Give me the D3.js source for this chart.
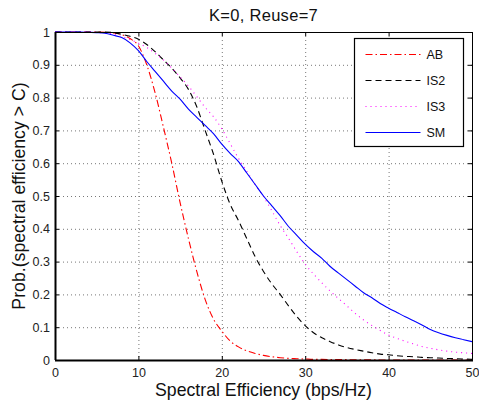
<!DOCTYPE html>
<html>
<head>
<meta charset="utf-8">
<script src="https://cdn.jsdelivr.net/npm/d3@7"></script>
<style>
  body { margin: 0; background: #fff; }
  svg { font-family: "Liberation Sans", Arial, sans-serif; }
</style>
</head>
<body>
<svg id="chart" width="479" height="406"></svg>
<script>
var xs = d3.range(0, 51);
var ab = [1, 1, 1, 1, 1, 1, 0.999, 0.997, 0.992, 0.98, 0.958, 0.9, 0.815, 0.71, 0.6, 0.48,
  0.37, 0.27, 0.185, 0.125, 0.088, 0.058, 0.04, 0.028, 0.02, 0.014, 0.01, 0.007, 0.005, 0.004,
  0.003, 0.002, 0.002, 0.0015, 0.001, 0.001, 0.0008, 0.0006, 0.0004, 0.0002, 0.0001,
  0, 0, 0, 0, 0, 0, 0, 0, 0, 0];
var is2 = [1, 1, 1, 1, 1, 1, 1, 0.998, 0.993, 0.987, 0.978, 0.962, 0.94, 0.915, 0.89, 0.86,
  0.825, 0.772, 0.70, 0.628, 0.545, 0.475, 0.425, 0.37, 0.315, 0.27, 0.232, 0.2, 0.165, 0.132,
  0.105, 0.083, 0.068, 0.056, 0.046, 0.038, 0.032, 0.027, 0.022, 0.018, 0.016, 0.013, 0.011,
  0.01, 0.008, 0.007, 0.006, 0.005, 0.004, 0.003, 0.002];
var is3 = [1, 1, 1, 1, 1, 0.999, 0.997, 0.993, 0.986, 0.977, 0.966, 0.953, 0.935, 0.915, 0.89,
  0.863, 0.835, 0.803, 0.77, 0.742, 0.705, 0.66, 0.615, 0.575, 0.535, 0.498, 0.455, 0.41, 0.371,
  0.33, 0.292, 0.262, 0.235, 0.21, 0.187, 0.165, 0.142, 0.122, 0.105, 0.09, 0.076, 0.066, 0.057,
  0.049, 0.041, 0.036, 0.031, 0.027, 0.024, 0.022, 0.02];
var sm = [1, 1, 1, 1, 0.999, 0.998, 0.996, 0.99, 0.983, 0.967, 0.943, 0.91, 0.88, 0.85, 0.82,
  0.795, 0.765, 0.74, 0.715, 0.69, 0.658, 0.63, 0.605, 0.57, 0.535, 0.5, 0.47, 0.44, 0.407, 0.38,
  0.353, 0.33, 0.31, 0.285, 0.265, 0.245, 0.225, 0.205, 0.19, 0.172, 0.158, 0.145, 0.132, 0.12,
  0.107, 0.093, 0.083, 0.075, 0.068, 0.062, 0.056];

var seriesNames = ["AB", "IS2", "IS3", "SM"];
var seriesValues = [ab, is2, is3, sm];
var xTicks = [0, 10, 20, 30, 40, 50];
var yTicks = [0, 0.1, 0.2, 0.3, 0.4, 0.5, 0.6, 0.7, 0.8, 0.9, 1];

var colors = ["#ff0000", "#000000", "#ff00ff", "#0000ff"];
var dashes = ["7,3,1.5,3", "6,4", "1,4", null];

var svg = d3.select("#chart");
var margin = {left: 55, top: 32, right: 7, bottom: 46};
var width = +svg.attr("width") - margin.left - margin.right;
var height = +svg.attr("height") - margin.top - margin.bottom;
var g = svg.append("g").attr("transform", `translate(${margin.left}, ${margin.top})`);

var x = d3.scaleLinear().domain([0, 50]).range([0, width]);
var y = d3.scaleLinear().domain([0, 1]).range([height, 0]);

// dotted grid
g.append("g").selectAll("line").data(xTicks.slice(1, -1)).enter().append("line")
  .attr("x1", d => x(d) + 0.5).attr("x2", d => x(d) + 0.5)
  .attr("y1", 0).attr("y2", height)
  .attr("stroke", "#777").attr("stroke-dasharray", "1,3");
g.append("g").selectAll("line").data(yTicks.slice(1, -1)).enter().append("line")
  .attr("y1", d => y(d) + 0.5).attr("y2", d => y(d) + 0.5)
  .attr("x1", 0).attr("x2", width)
  .attr("stroke", "#777").attr("stroke-dasharray", "1,3");

// axes, ticks pointing inward like matlab
g.append("g").attr("transform", `translate(0, ${height})`)
  .call(d3.axisBottom(x).tickValues(xTicks).tickSizeInner(-4).tickSizeOuter(0).tickPadding(8));
g.append("g")
  .call(d3.axisLeft(y).tickValues(yTicks).tickFormat(d3.format("")).tickSizeInner(-4).tickSizeOuter(0).tickPadding(5));
g.append("g").call(d3.axisTop(x).tickValues(xTicks).tickSizeInner(-4).tickSizeOuter(0).tickFormat(""));
g.append("g").attr("transform", `translate(${width}, 0)`)
  .call(d3.axisRight(y).tickValues(yTicks).tickSizeInner(-4).tickSizeOuter(0).tickFormat(""));
g.selectAll(".domain").remove();
g.selectAll(".tick line").attr("stroke", "#000");
g.selectAll(".tick text").attr("font-size", 12.5).attr("fill", "#222")
  .attr("font-family", "Liberation Sans, Arial, sans-serif");

// curves
var line = d3.line().x((d, i) => x(xs[i])).y(d => y(d)).curve(d3.curveMonotoneX);
seriesValues.forEach(function (vals, k) {
  g.append("path").datum(vals)
    .attr("fill", "none")
    .attr("stroke", colors[k])
    .attr("stroke-width", 1.1)
    .attr("stroke-dasharray", dashes[k])
    .attr("d", line);
});

// box
g.append("rect").attr("x", 0.5).attr("y", 0.5).attr("width", width).attr("height", height)
  .attr("fill", "none").attr("stroke", "#000").attr("stroke-width", 1);
g.append("line").attr("x1", 0).attr("x2", width + 1).attr("y1", height + 0.5).attr("y2", height + 0.5)
  .attr("stroke", "#000").attr("stroke-width", 2);
g.append("line").attr("x1", 0.5).attr("x2", 0.5).attr("y1", 0).attr("y2", height)
  .attr("stroke", "#000").attr("stroke-width", 2);

// legend
var lg = g.append("g").attr("transform", "translate(299.5, 6.5)");
lg.append("rect").attr("width", 109).attr("height", 108)
  .attr("fill", "#fff").attr("stroke", "#000").attr("stroke-width", 1.2);
seriesNames.forEach(function (name, k) {
  var yy = 16 + k * 26;
  lg.append("line").attr("x1", 11).attr("x2", 66).attr("y1", yy).attr("y2", yy)
    .attr("stroke", colors[k]).attr("stroke-width", 1.1).attr("stroke-dasharray", dashes[k]);
  lg.append("text").attr("x", 72).attr("y", yy + 4.5).text(name)
    .attr("font-size", 12.5).attr("fill", "#111");
});

// labels
svg.append("text").attr("x", margin.left + width / 2).attr("y", 20.7)
  .attr("text-anchor", "middle").attr("font-size", 16.5).attr("letter-spacing", 0.3).attr("fill", "#111")
  .text("K=0, Reuse=7");
svg.append("text").attr("x", margin.left + width / 2).attr("y", 395.5)
  .attr("text-anchor", "middle").attr("font-size", 17.7).attr("fill", "#111")
  .text("Spectral Efficiency (bps/Hz)");
svg.append("text")
  .attr("transform", `translate(25, ${margin.top + height / 2}) rotate(-90)`)
  .attr("text-anchor", "middle").attr("font-size", 17.7).attr("fill", "#111")
  .text("Prob.(spectral efficiency > C)");
</script>
</body>
</html>
